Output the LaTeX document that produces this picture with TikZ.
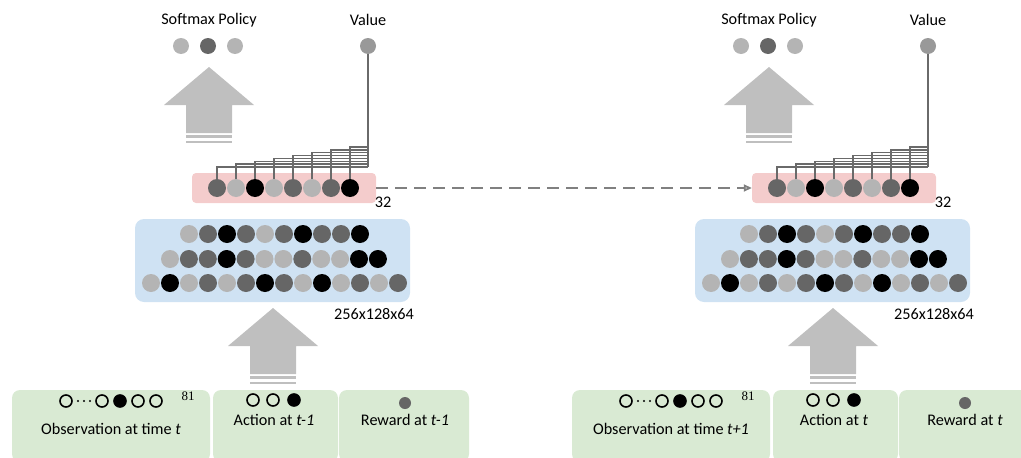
\documentclass[tikz,border=0pt]{standalone}
\usepackage{fontspec}
\setmainfont{Carlito}
\newfontfamily\numfont{Liberation Serif}
\usetikzlibrary{arrows.meta,positioning}
\definecolor{uL}{HTML}{B4B4B4}
\definecolor{uD}{HTML}{666666}
\definecolor{uB}{HTML}{000000}
\definecolor{valgray}{HTML}{999999}
\definecolor{lstmpink}{HTML}{F4CCCC}
\definecolor{convblue}{HTML}{CFE2F3}
\definecolor{inputgreen}{HTML}{D9EAD3}
\definecolor{arrowgray}{HTML}{BFBFBF}
\definecolor{wiregray}{HTML}{6A6A6A}
\definecolor{recurgray}{HTML}{808080}

\begin{document}
\begin{tikzpicture}[x=1pt,y=-1pt,
  lbl/.style={font=\fontsize{16.2}{19}\selectfont, inner sep=0pt},
  unit/.style={circle, inner sep=0pt, minimum size=18pt},
  outunit/.style={circle, inner sep=0pt, minimum size=16pt},
  bit/.style={circle, draw=black, line width=1.6pt, inner sep=0pt, minimum size=12pt},
  pinkbox/.style={rectangle, rounded corners=4pt, fill=lstmpink, minimum width=184pt, minimum height=30pt},
  bluebox/.style={rectangle, rounded corners=9pt, fill=convblue, minimum width=275pt, minimum height=83pt},
  inbox/.style={rectangle, rounded corners=8pt, fill=inputgreen, minimum height=72pt},
  wire/.style={draw=wiregray, line width=1.4pt},
  recur/.style={draw=recurgray, line width=1.8pt, dash pattern=on 12pt off 7pt,
    -{Triangle[open, length=8pt, width=7pt]}},
  fat arrow/.pic={
    \fill[arrowgray] (0,0) -- (45,38) -- (23,38) -- (23,66) -- (-23,66) -- (-23,38) -- (-45,38) -- cycle;
    \fill[arrowgray] (-23,68) rectangle (23,71);
    \fill[arrowgray] (-23,74) rectangle (23,76);
  }]
  \useasboundingbox (0,0) rectangle (1021,458);

  % two time steps of the same network
  \foreach \sx/\p/\obs/\act/\rew in {0/L/{\textit{t}}/{\textit{t-1}}/{\textit{t-1}},
                                     560/R/{\textit{t+1}}/{\textit{t}}/{\textit{t}}} {
  \begin{scope}[shift={(\sx,0)}]
    % === outputs ===
    \node[lbl] (\p soft) at (209,20) {Softmax Policy};
    \node[lbl] (\p vlab) at (368,20) {Value};
    \node[outunit, fill=uL] (\p pol1) at (181,46) {};
    \node[outunit, fill=uD] (\p pol2) at (208,46) {};
    \node[outunit, fill=uL] (\p pol3) at (235,46) {};
    \node[outunit, fill=valgray] (\p val) at (368,46) {};
    \pic at (209,67) {fat arrow};

    % === recurrent layer ===
    \node[pinkbox] (\p pink) at (284,188) {};
    \foreach \c [count=\i] in {D,L,B,L,D,L,D,B} {
      \node[unit, fill=u\c] (\p h\i) at ({217+19*(\i-1)},188) {};
    }
    \coordinate (\p vbot) at (368,167);
    \draw[wire] (\p val.south) -- (\p vbot);
    \foreach \i in {1,...,8} {
      \pgfmathsetmacro\ly{167-2.85*(\i-1)}
      \draw[wire] (\p h\i.north) |- (368,\ly);
    }
    \node[lbl] (\p n32) at (383,202) {32};

    % === conv layers ===
    \node[bluebox] (\p conv) at (272.5,260.5) {};
    \foreach \c [count=\i] in {L,D,B,D,L,D,B,D,D,B}
      \fill[u\c] ({189+19*(\i-1)},234) circle (9pt);
    \foreach \c [count=\i] in {L,D,D,B,D,L,L,D,L,L,B,B}
      \fill[u\c] ({170+18.9*(\i-1)},259) circle (9pt);
    \foreach \c [count=\i] in {L,B,L,D,L,D,B,D,L,B,L,D,L,D}
      \fill[u\c] ({151+19*(\i-1)},283) circle (9pt);
    \node[lbl] (\p dims) at (374,314) {256x128x64};
    \pic at (273,308) {fat arrow};

    % === inputs ===
    \node[inbox, minimum width=198pt] (\p obsbox) at (111,426) {};
    \node[inbox, minimum width=130pt] (\p rewbox) at (404,426) {};
    \node[inbox, minimum width=125pt] (\p actbox) at (275.5,426) {};
    \node[bit] (\p o1) at (66,401) {};
    \foreach \d in {78,84,90} \fill (\d,401) circle (1.2pt);
    \node[bit] (\p o2) at (102,401) {};
    \node[bit, fill=black] (\p o3) at (120,401) {};
    \node[bit] (\p o4) at (138,401) {};
    \node[bit] (\p o5) at (156,401) {};
    \node[font=\numfont\fontsize{13}{15}\selectfont, inner sep=0pt] (\p n81) at (188,396) {81};
    \node[lbl] (\p obslab) at (111,429) {Observation at time \obs};
    \node[bit] (\p a1) at (253,400) {};
    \node[bit] (\p a2) at (273,400) {};
    \node[bit, fill=black] (\p a3) at (294,400) {};
    \node[lbl] (\p actlab) at (274,420) {Action at \act};
    \node[circle, fill=uD, inner sep=0pt, minimum size=12pt] (\p r1) at (405,403) {};
    \node[lbl] (\p rewlab) at (405,420) {Reward at \rew};
  \end{scope}
  }

  % hidden state passed to the next step
  \draw[recur] (Lpink.east) -- (Rpink.west);
\end{tikzpicture}
\end{document}
